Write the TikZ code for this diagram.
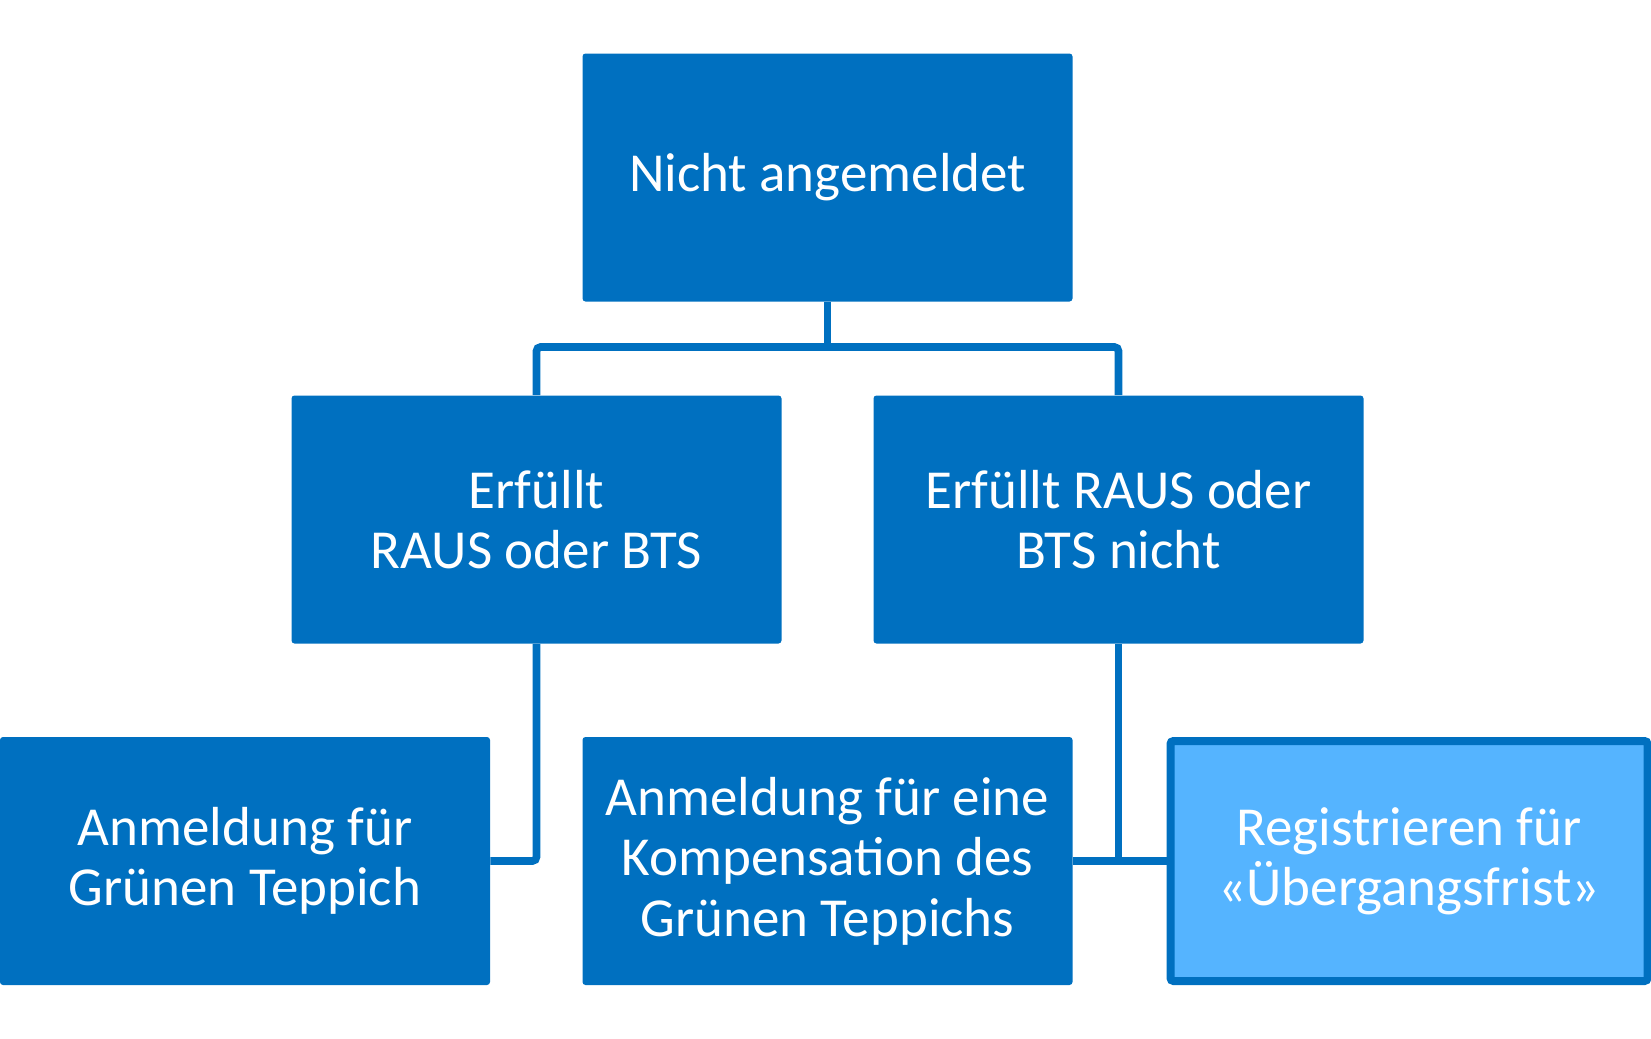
\documentclass[tikz,border=0pt]{standalone}
\usepackage{fontspec}
\setmainfont{Carlito}
\usetikzlibrary{positioning}

\definecolor{boxblue}{HTML}{0070C0}
\definecolor{lightblue}{HTML}{55B4FF}

\tikzset{
  box/.style={fill=boxblue, text=white, minimum width=245pt, minimum height=124pt,
    rounded corners=1.5pt, align=center, inner sep=0pt,
    font=\fontsize{27.5}{30.2}\selectfont},
  hilite/.style={box, fill=lightblue, draw=boxblue, line width=4pt,
    minimum width=238.5pt, minimum height=120pt},
  wire/.style={draw=boxblue, line width=3.8pt, rounded corners=2pt}
}

\begin{document}
\begin{tikzpicture}[x=0.5pt, y=-0.5pt]

\useasboundingbox (0,0) rectangle (1651,1039);

% boxes
\node[box] (nicht) at (827.5,177.5) {Nicht angemeldet};
\node[box] (erf) at (536.5,519.5) {Erfüllt\\RAUS oder BTS};
\node[box] (erfnicht) at (1118.5,519.5) {Erfüllt RAUS oder\\BTS nicht};
\node[box] (gruen) at (245,861) {Anmeldung für\\Grünen Teppich};
\node[box] (komp) at (827.5,861) {Anmeldung für eine\\Kompensation des\\Grünen Teppichs};
\node[hilite] (frist) at (1409,861) {Registrieren für\\«Übergangsfrist»};

% connectors
\coordinate (split) at (827.5,347);
\draw[wire] (nicht.south) -- (split);
\draw[wire] (erf.north) |- (split) -| (erfnicht.north);
\draw[wire] (erf.south) |- (gruen.east);
\draw[wire] (komp.east) -- (frist.west);
\draw[wire] (erfnicht.south) -- (erfnicht.south |- komp.east);

\end{tikzpicture}
\end{document}
